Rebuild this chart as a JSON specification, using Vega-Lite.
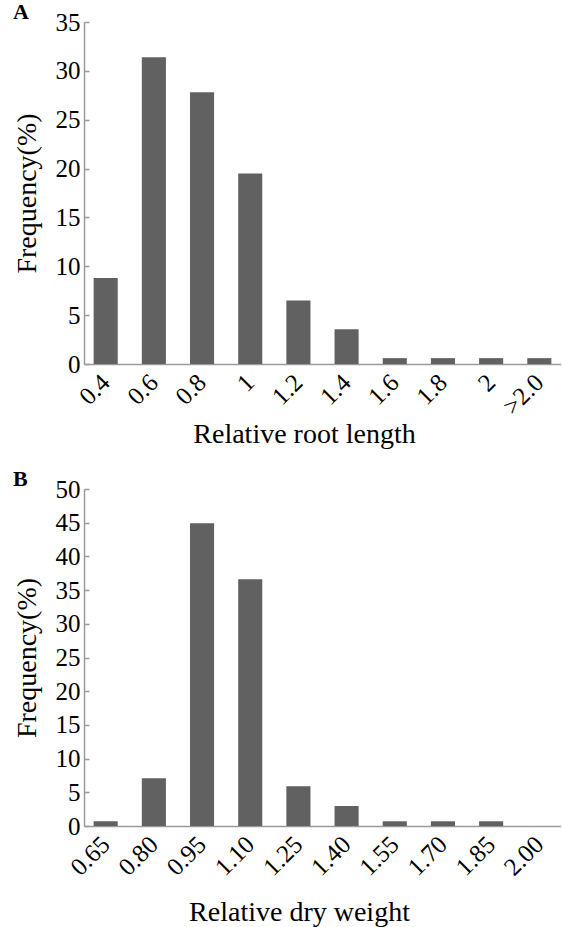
{
  "$schema": "https://vega.github.io/schema/vega-lite/v6.json",
  "padding": {"left": 13, "top": 1, "right": 0, "bottom": 0},
  "background": "white",
  "config": {
    "font": "Liberation Serif",
    "view": {"stroke": null},
    "axis": {
      "grid": false,
      "domainColor": "#9a9a9a",
      "domainWidth": 1.5,
      "tickColor": "#9a9a9a",
      "tickWidth": 1.5,
      "labelColor": "#000000",
      "titleColor": "#000000",
      "labelFont": "Liberation Serif",
      "titleFont": "Liberation Serif",
      "labelFontSize": 25,
      "titleFontSize": 28,
      "titleFontWeight": "normal"
    },
    "title": {"font": "Liberation Serif", "fontSize": 22, "fontWeight": "bold", "anchor": "start", "frame": "bounds", "color": "#000000"},
    "concat": {"spacing": 19}
  },
  "vconcat": [
    {
      "title": {"text": "A", "offset": -14},
      "width": 477,
      "height": 342,
      "data": {"values": [
        {"bin": "0.4", "freq": 8.8},
        {"bin": "0.6", "freq": 31.4},
        {"bin": "0.8", "freq": 27.8},
        {"bin": "1", "freq": 19.5},
        {"bin": "1.2", "freq": 6.5},
        {"bin": "1.4", "freq": 3.55},
        {"bin": "1.6", "freq": 0.6},
        {"bin": "1.8", "freq": 0.6},
        {"bin": "2", "freq": 0.6},
        {"bin": ">2.0", "freq": 0.6}
      ]},
      "mark": {"type": "bar", "color": "#616161"},
      "encoding": {
        "x": {
          "field": "bin", "type": "nominal", "sort": null,
          "scale": {"paddingInner": 0.5, "paddingOuter": 0.2},
          "axis": {"title": "Relative root length", "labelAngle": -45, "labelAlign": "right", "labelBaseline": "middle", "ticks": false, "labelPadding": 14, "titlePadding": 1, "titleX": 220}
        },
        "y": {
          "field": "freq", "type": "quantitative",
          "scale": {"domain": [0, 35]},
          "axis": {"title": "Frequency(%)", "values": [0, 5, 10, 15, 20, 25, 30, 35], "tickSize": -5, "labelPadding": 9, "titlePadding": 14}
        }
      }
    },
    {
      "title": {"text": "B", "offset": -14},
      "width": 477,
      "height": 337,
      "data": {"values": [
        {"bin": "0.65", "freq": 0.7},
        {"bin": "0.80", "freq": 7.1},
        {"bin": "0.95", "freq": 44.9},
        {"bin": "1.10", "freq": 36.6},
        {"bin": "1.25", "freq": 5.9},
        {"bin": "1.40", "freq": 2.95},
        {"bin": "1.55", "freq": 0.7},
        {"bin": "1.70", "freq": 0.7},
        {"bin": "1.85", "freq": 0.7},
        {"bin": "2.00", "freq": 0}
      ]},
      "mark": {"type": "bar", "color": "#616161"},
      "encoding": {
        "x": {
          "field": "bin", "type": "nominal", "sort": null,
          "scale": {"paddingInner": 0.5, "paddingOuter": 0.2},
          "axis": {"title": "Relative dry weight", "labelAngle": -45, "labelAlign": "right", "labelBaseline": "middle", "ticks": false, "labelPadding": 14, "titlePadding": 18, "titleX": 215}
        },
        "y": {
          "field": "freq", "type": "quantitative",
          "scale": {"domain": [0, 50]},
          "axis": {"title": "Frequency(%)", "values": [0, 5, 10, 15, 20, 25, 30, 35, 40, 45, 50], "tickSize": -5, "labelPadding": 9, "titlePadding": 14}
        }
      }
    }
  ]
}
